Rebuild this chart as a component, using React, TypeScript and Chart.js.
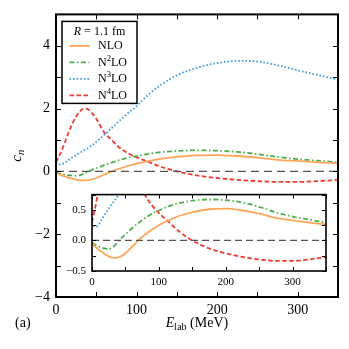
import React, { useEffect, useRef } from 'react';
import { Chart, registerables } from 'chart.js';
Chart.register(...registerables);

// ---------------- data ----------------
const energies = [0, 5, 10, 15, 20, 25, 30, 35, 40, 45, 50, 60, 70, 80, 90, 100, 115, 130, 150, 175, 200, 225, 250, 275, 300, 325, 350];
const nlo = [-0.05, -0.1, -0.15, -0.19, -0.23, -0.26, -0.28, -0.285, -0.275, -0.25, -0.21, -0.1, 0.01, 0.1, 0.18, 0.25, 0.33, 0.4, 0.46, 0.51, 0.52, 0.49, 0.44, 0.37, 0.33, 0.29, 0.26];
const n2lo = [-0.04, -0.07, -0.1, -0.12, -0.135, -0.14, -0.12, -0.07, -0.01, 0.05, 0.1, 0.2, 0.29, 0.37, 0.44, 0.49, 0.56, 0.61, 0.65, 0.67, 0.66, 0.62, 0.55, 0.46, 0.39, 0.34, 0.29];
const n3lo = [0.3, 0.22, 0.26, 0.35, 0.44, 0.52, 0.6, 0.67, 0.75, 0.84, 0.94, 1.17, 1.4, 1.64, 1.87, 2.08, 2.45, 2.75, 3.06, 3.3, 3.45, 3.52, 3.5, 3.38, 3.22, 3.07, 2.92];
const n4lo = [0.3, 0.55, 0.85, 1.2, 1.5, 1.75, 1.92, 2.0, 1.97, 1.85, 1.68, 1.24, 0.98, 0.73, 0.57, 0.45, 0.3, 0.15, 0.0, -0.13, -0.21, -0.27, -0.31, -0.335, -0.335, -0.31, -0.27];
const zeroLineX = [0, 350];

const seriesNames = ['NLO', 'N2LO', 'N3LO', 'N4LO'];
const seriesValues = [nlo, n2lo, n3lo, n4lo];
const seriesColors = ['#FDA65A', '#4DAF4A', '#3D9BE0', '#F03B30'];
const seriesDashes: number[][] = [[], [5, 2.5, 1.5, 2.5], [1.6, 2], [4.5, 2.5]];
const legendTitleParts = ['R', ' = 1.1 fm'];

const mainXRange = [0, 350];
const mainYRange = [-4, 5];
const insetXRange = [0, 350];
const insetYRange = [-0.5, 0.75];

const SERIF = '"Liberation Serif", "Times New Roman", serif';

const minus = (s: string) => s.replace('-', '\u2212');

function buildDatasets(zeroDash: number[]) {
  const ds: any[] = seriesNames.map((name, i) => ({
    label: name,
    data: energies.map((e, k) => ({ x: e, y: seriesValues[i][k] })),
    borderColor: seriesColors[i],
    backgroundColor: seriesColors[i],
    borderWidth: 1.8,
    borderDash: seriesDashes[i],
    pointRadius: 0,
    cubicInterpolationMode: 'monotone',
    fill: false,
  }));
  ds.unshift({
    label: 'zero',
    data: zeroLineX.map((x) => ({ x, y: 0 })),
    borderColor: '#555',
    borderWidth: 1.2,
    borderDash: zeroDash,
    pointRadius: 0,
    fill: false,
  });
  return ds;
}

function drawFrame(chart: any, len: number, frameW: number) {
  const { ctx, chartArea: a, scales } = chart;
  const xs = scales.x;
  const ys = scales.y;
  ctx.save();
  ctx.strokeStyle = '#000';
  ctx.lineWidth = 1;
  ctx.beginPath();
  xs.ticks.forEach((t: any) => {
    const px = Math.round(xs.getPixelForValue(t.value)) + 0.5;
    ctx.moveTo(px, a.bottom);
    ctx.lineTo(px, a.bottom - len);
    ctx.moveTo(px, a.top);
    ctx.lineTo(px, a.top + len);
  });
  ys.ticks.forEach((t: any) => {
    const py = Math.round(ys.getPixelForValue(t.value)) + 0.5;
    ctx.moveTo(a.left, py);
    ctx.lineTo(a.left + len, py);
    ctx.moveTo(a.right, py);
    ctx.lineTo(a.right - len, py);
  });
  ctx.stroke();
  ctx.lineWidth = frameW;
  ctx.strokeRect(a.left, a.top, a.right - a.left, a.bottom - a.top);
  ctx.restore();
}

function drawSeriesName(ctx: CanvasRenderingContext2D, name: string, x: number, y: number, size: number) {
  const m = name.match(/^N(\d)LO$/);
  ctx.textBaseline = 'middle';
  ctx.textAlign = 'left';
  if (!m) {
    ctx.font = `${size}px ${SERIF}`;
    ctx.fillText(name, x, y);
    return;
  }
  ctx.font = `${size}px ${SERIF}`;
  ctx.fillText('N', x, y);
  let cx = x + ctx.measureText('N').width;
  ctx.font = `${size * 0.72}px ${SERIF}`;
  ctx.fillText(m[1], cx, y - size * 0.32);
  cx += ctx.measureText(m[1]).width;
  ctx.font = `${size}px ${SERIF}`;
  ctx.fillText('LO', cx, y);
}

const mainPlugin = {
  id: 'mainDecor',
  beforeDraw(chart: any) {
    const { ctx, width, height } = chart;
    ctx.save();
    ctx.fillStyle = '#fff';
    ctx.fillRect(0, 0, width, height);
    ctx.restore();
  },
  afterDraw(chart: any) {
    const { ctx, chartArea: a } = chart;
    drawFrame(chart, 5, 2);

    // legend
    ctx.save();
    const bx = a.left + 6, by = a.top + 7, bw = 75, bh = 82;
    ctx.fillStyle = '#fff';
    ctx.fillRect(bx, by, bw, bh);
    ctx.strokeStyle = '#000';
    ctx.lineWidth = 1.5;
    ctx.strokeRect(bx, by, bw, bh);
    ctx.fillStyle = '#000';
    const fs = 12;
    // title
    ctx.textBaseline = 'middle';
    ctx.font = `italic ${fs}px ${SERIF}`;
    const w1 = ctx.measureText(legendTitleParts[0]).width;
    ctx.font = `${fs}px ${SERIF}`;
    const w2 = ctx.measureText(legendTitleParts[1]).width;
    const tx = bx + bw / 2 - (w1 + w2) / 2;
    ctx.font = `italic ${fs}px ${SERIF}`;
    ctx.textAlign = 'left';
    ctx.fillText(legendTitleParts[0], tx, by + 10);
    ctx.font = `${fs}px ${SERIF}`;
    ctx.fillText(legendTitleParts[1], tx + w1, by + 10);
    chart.data.datasets.slice(1).forEach((d: any, i: number) => {
      const yy = by + 24.5 + i * 16.5;
      ctx.save();
      ctx.strokeStyle = d.borderColor;
      ctx.lineWidth = 1.8;
      ctx.setLineDash(d.borderDash || []);
      ctx.beginPath();
      ctx.moveTo(bx + 7.5, yy);
      ctx.lineTo(bx + 27.5, yy);
      ctx.stroke();
      ctx.restore();
      ctx.fillStyle = '#000';
      drawSeriesName(ctx, d.label, bx + 36, yy, fs);
    });
    ctx.restore();

    // y title c_n
    ctx.save();
    ctx.translate(17, (a.top + a.bottom) / 2);
    ctx.rotate(-Math.PI / 2);
    ctx.fillStyle = '#000';
    ctx.textBaseline = 'alphabetic';
    ctx.font = `italic 15px ${SERIF}`;
    const cw = ctx.measureText('c').width;
    ctx.font = `italic 10.5px ${SERIF}`;
    const nw = ctx.measureText('n').width;
    const sx = -(cw + nw) / 2;
    ctx.font = `italic 15px ${SERIF}`;
    ctx.textAlign = 'left';
    ctx.fillText('c', sx, 4);
    ctx.font = `italic 10.5px ${SERIF}`;
    ctx.fillText('n', sx + cw, 7);
    ctx.restore();

    // x title E_lab (MeV)
    ctx.save();
    ctx.fillStyle = '#000';
    ctx.textBaseline = 'alphabetic';
    ctx.textAlign = 'left';
    ctx.font = `italic 14px ${SERIF}`;
    const ew = ctx.measureText('E').width;
    ctx.font = `10px ${SERIF}`;
    const lw = ctx.measureText('lab').width;
    ctx.font = `14px ${SERIF}`;
    const mw = ctx.measureText(' (MeV)').width;
    let x0 = (a.left + a.right) / 2 - (ew + lw + mw) / 2;
    const base = 327;
    ctx.font = `italic 14px ${SERIF}`;
    ctx.fillText('E', x0, base);
    x0 += ew;
    ctx.font = `10px ${SERIF}`;
    ctx.fillText('lab', x0, base + 3);
    x0 += lw;
    ctx.font = `14px ${SERIF}`;
    ctx.fillText(' (MeV)', x0, base);
    // panel tag
    ctx.fillText('(a)', 15, base);
    ctx.restore();
  },
};

const insetPlugin = {
  id: 'insetDecor',
  beforeDraw(chart: any) {
    const { ctx, chartArea: a } = chart;
    ctx.save();
    ctx.fillStyle = '#fff';
    ctx.fillRect(a.left, a.top, a.right - a.left, a.bottom - a.top);
    ctx.restore();
  },
  afterDraw(chart: any) {
    drawFrame(chart, 4, 1.6);
  },
};

export default function App() {
  const mainRef = useRef<HTMLCanvasElement>(null);
  const insetRef = useRef<HTMLCanvasElement>(null);

  useEffect(() => {
    const tickFont = { family: SERIF, size: 14 };
    const main = new Chart(mainRef.current as HTMLCanvasElement, {
      type: 'line',
      data: { datasets: buildDatasets([8, 5]) },
      options: {
        animation: false,
        responsive: false,
        events: [],
        layout: { padding: { top: 10, right: 11, left: 0, bottom: 0 } },
        plugins: { legend: { display: false }, tooltip: { enabled: false } },
        scales: {
          x: {
            type: 'linear',
            min: mainXRange[0],
            max: mainXRange[1],
            grid: { display: false, drawTicks: false },
            border: { display: false },
            afterFit: (s: any) => { s.height = 52; },
            ticks: {
              stepSize: 50,
              padding: 5,
              color: '#000',
              font: tickFont,
              maxRotation: 0,
              autoSkip: false,
              callback: (v: any) => (Number(v) % 100 === 0 ? String(v) : ''),
            },
          },
          y: {
            type: 'linear',
            min: mainYRange[0],
            max: mainYRange[1],
            grid: { display: false, drawTicks: false },
            border: { display: false },
            afterFit: (s: any) => { s.width = 56; },
            ticks: {
              stepSize: 1,
              padding: 6,
              color: '#000',
              font: tickFont,
              autoSkip: false,
              callback: (v: any) => (Number(v) % 2 === 0 ? minus(String(v)) : ''),
            },
          },
        },
      } as any,
      plugins: [mainPlugin],
    });

    const insetFont = { family: SERIF, size: 11 };
    const inset = new Chart(insetRef.current as HTMLCanvasElement, {
      type: 'line',
      data: { datasets: buildDatasets([7, 4]) },
      options: {
        animation: false,
        responsive: false,
        events: [],
        layout: { padding: { top: 7, right: 9, left: 0, bottom: 0 } },
        plugins: { legend: { display: false }, tooltip: { enabled: false } },
        scales: {
          x: {
            type: 'linear',
            min: insetXRange[0],
            max: insetXRange[1],
            grid: { display: false, drawTicks: false },
            border: { display: false },
            afterFit: (s: any) => { s.height = 21; },
            ticks: {
              stepSize: 50,
              padding: 5,
              color: '#000',
              font: insetFont,
              maxRotation: 0,
              autoSkip: false,
              callback: (v: any) => (Number(v) % 100 === 0 ? String(v) : ''),
            },
          },
          y: {
            type: 'linear',
            min: insetYRange[0],
            max: insetYRange[1],
            grid: { display: false, drawTicks: false },
            border: { display: false },
            afterFit: (s: any) => { s.width = 32; },
            ticks: {
              stepSize: 0.25,
              padding: 6,
              color: '#000',
              font: insetFont,
              autoSkip: false,
              callback: (v: any) => {
                const n = Number(v);
                return Math.abs(n * 2 - Math.round(n * 2)) < 1e-9 ? minus(n.toFixed(1)) : '';
              },
            },
          },
        },
      } as any,
      plugins: [insetPlugin],
    });

    return () => {
      main.destroy();
      inset.destroy();
    };
  }, []);

  return (
    <div style={{ position: 'fixed', left: 0, top: 0, width: 349, height: 349, background: '#fff' }}>
      <canvas ref={mainRef} width={349} height={349} style={{ position: 'absolute', left: 0, top: 0, width: 349, height: 349 }} />
      <canvas ref={insetRef} width={275} height={110} style={{ position: 'absolute', left: 60, top: 182, width: 275, height: 110 }} />
    </div>
  );
}
